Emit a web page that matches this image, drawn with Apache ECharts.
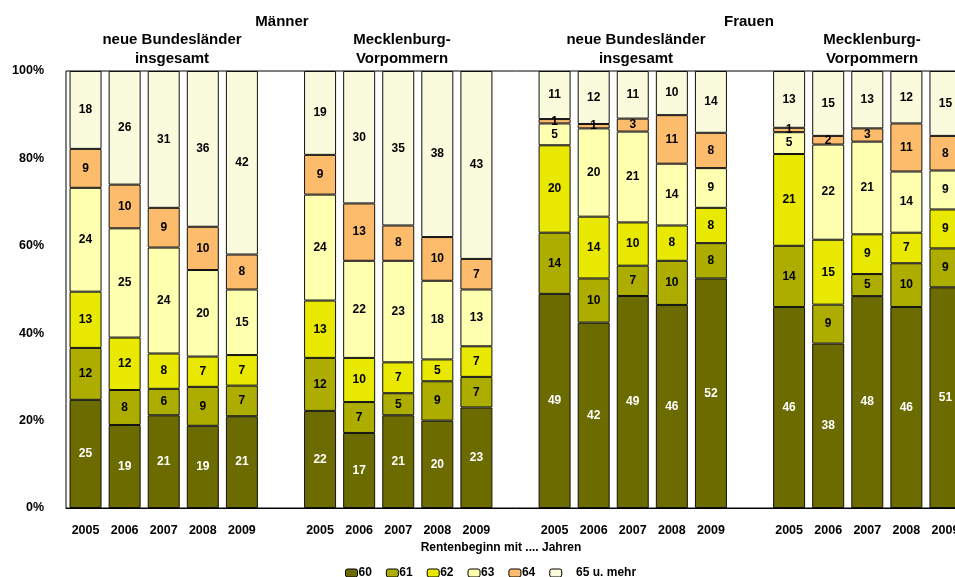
<!DOCTYPE html>
<html>
<head>
<meta charset="utf-8">
<title>Rentenbeginn</title>
<script src="https://cdn.jsdelivr.net/npm/echarts@6/dist/echarts.min.js"></script>
<style>
  html, body { margin: 0; padding: 0; background: #fff; overflow: hidden; }
  /* Diagramm ist rechts abgeschnitten wie im Original */
  #main { width: 965px; height: 577px; }
</style>
</head>
<body>
<div id="main"></div>
<script>
  // Jahre je Gruppe (Männer NBL, Männer MV, Frauen NBL, Frauen MV)
  var years = ['2005', '2006', '2007', '2008', '2009'];
  var groupCount = 4;

  // Anteile in % je Rentenbeginn-Alter, 20 Säulen hintereinander
  var s60 = [25, 19, 21, 19, 21,  22, 17, 21, 20, 23,  49, 42, 49, 46, 52,  46, 38, 48, 46, 51];
  var s61 = [12,  8,  6,  9,  7,  12,  7,  5,  9,  7,  14, 10,  7, 10,  8,  14,  9,  5, 10,  9];
  var s62 = [13, 12,  8,  7,  7,  13, 10,  7,  5,  7,  20, 14, 10,  8,  8,  21, 15,  9,  7,  9];
  var s63 = [24, 25, 24, 20, 15,  24, 22, 23, 18, 13,   5, 20, 21, 14,  9,   5, 22, 21, 14,  9];
  var s64 = [ 9, 10,  9, 10,  8,   9, 13,  8, 10,  7,   1,  1,  3, 11,  8,   1,  2,  3, 11,  8];
  var s65 = [18, 26, 31, 36, 42,  19, 30, 35, 38, 43,  11, 12, 11, 10, 14,  13, 15, 13, 12, 15];

  var seriesNames = ['60', '61', '62', '63', '64', '65 u. mehr'];
  var seriesValues = [s60, s61, s62, s63, s64, s65];
  var seriesColors = ['#6b6b00', '#adad00', '#e8e800', '#ffffb0', '#fdbb6c', '#fafadc'];

  // Kategorien mit je einer Leerstelle zwischen den Gruppen
  var categories = [];
  var slotIndex = [];   // Säulen-Index je Kategorie, -1 = Lücke
  for (var g = 0; g < groupCount; g++) {
    for (var y = 0; y < years.length; y++) {
      categories.push(years[y]);
      slotIndex.push(g * years.length + y);
    }
    if (g < groupCount - 1) {
      categories.push('');
      slotIndex.push(-1);
    }
  }

  // Summe je Säule (100%-Stapel wie in Excel)
  var sums = s60.map(function (v, i) {
    var t = 0;
    seriesValues.forEach(function (arr) { t += arr[i]; });
    return t;
  });

  var font = 'Liberation Sans, Arial, sans-serif';

  var series = seriesNames.map(function (name, k) {
    return {
      name: name,
      type: 'bar',
      stack: 'total',
      barWidth: 32,
      itemStyle: {
        color: seriesColors[k],
        borderColor: '#111',
        borderWidth: 1
      },
      label: {
        show: true,
        position: 'inside',
        color: k === 0 ? '#fff' : '#000',
        fontWeight: 'bold',
        fontSize: 12,
        fontFamily: font,
        formatter: function (p) { return p.data ? p.data.raw : ''; }
      },
      data: slotIndex.map(function (idx) {
        if (idx < 0) return null;
        var v = seriesValues[k][idx];
        return { value: v / sums[idx] * 100, raw: v };
      })
    };
  });

  function header(text, x, y) {
    return {
      type: 'text', x: x, y: y,
      style: { text: text, textAlign: 'center', textVerticalAlign: 'middle', fontSize: 15, fontWeight: 'bold', fontFamily: font, fill: '#000' }
    };
  }

  var chart = echarts.init(document.getElementById('main'));
  var option = {
    animation: false,
    backgroundColor: '#fff',
    grid: {
      left: 66,
      right: 0,
      top: 71,
      bottom: 69,
      show: true,
      borderColor: '#000',
      borderWidth: 1
    },
    legend: {
      left: 340,
      top: 562,
      itemWidth: 12,
      itemHeight: 8,
      itemGap: 14,
      data: seriesNames,
      itemStyle: { borderColor: '#000', borderWidth: 1 },
      textStyle: { fontWeight: 'bold', fontSize: 12, fontFamily: font, color: '#000', padding: [0, 0, 0, -4] },
      formatter: function (name) { return name === '65 u. mehr' ? '    65 u. mehr' : name; }
    },
    xAxis: {
      type: 'category',
      data: categories,
      axisLine: { lineStyle: { color: '#000', width: 1 } },
      axisTick: { show: false },
      axisLabel: {
        interval: 0,
        margin: 16,
        color: '#000',
        fontWeight: 'bold',
        fontSize: 12.5,
        fontFamily: font
      }
    },
    yAxis: {
      type: 'value',
      min: 0,
      max: 100,
      interval: 20,
      axisLine: { show: false },
      axisTick: { show: false },
      splitLine: { show: false },
      axisLabel: {
        margin: 22,
        color: '#000',
        fontWeight: 'bold',
        fontSize: 12.5,
        fontFamily: font,
        formatter: '{value}%'
      }
    },
    graphic: [
      header('Männer', 282, 22),
      header('Frauen', 749, 22),
      header('neue Bundesländer', 172, 40),
      header('insgesamt', 172, 59),
      header('Mecklenburg-', 402, 40),
      header('Vorpommern', 402, 59),
      header('neue Bundesländer', 636, 40),
      header('insgesamt', 636, 59),
      header('Mecklenburg-', 872, 40),
      header('Vorpommern', 872, 59),
      // Achsentitel
      { type: 'text', x: 501, y: 548, style: { text: 'Rentenbeginn mit .... Jahren', textAlign: 'center', textVerticalAlign: 'middle', fontSize: 12, fontWeight: 'bold', fontFamily: font, fill: '#000' } }
    ],
    series: series
  };
  chart.setOption(option);
</script>
</body>
</html>
